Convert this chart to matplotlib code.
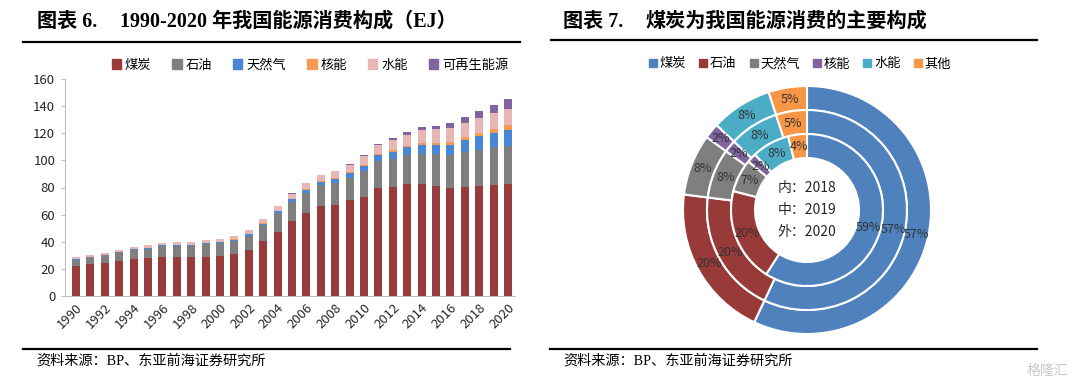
import matplotlib.pyplot as plt
import numpy as np
from matplotlib.lines import Line2D
from matplotlib.patches import Patch

plt.rcParams["font.family"] = ["Noto Sans CJK SC", "DejaVu Sans"]

TITLE_FONT = ["Liberation Serif", "Noto Sans CJK SC"]

years = list(range(1990, 2021))
coal = [22.2, 23.3, 24.4, 26.0, 27.6, 28.0, 29.1, 28.6, 28.5, 29.1, 29.6,
        31.0, 34.0, 40.6, 47.5, 55.6, 61.4, 66.1, 67.2, 70.7, 73.2,
        79.7, 80.7, 82.4, 82.8, 80.9, 80.0, 80.6, 81.2, 81.7, 82.3]
oil = [4.7, 5.1, 5.6, 6.1, 6.3, 7.0, 7.5, 8.2, 8.4, 9.0, 9.4,
       9.6, 10.4, 11.5, 13.4, 14.0, 14.9, 15.6, 15.9, 16.6, 18.9,
       19.6, 20.5, 21.3, 22.1, 23.7, 24.3, 25.5, 26.6, 27.9, 28.5]
gas = [0.55, 0.57, 0.57, 0.61, 0.63, 0.64, 0.69, 0.71, 0.73, 0.77, 0.88,
       1.0, 1.1, 1.3, 1.5, 1.7, 2.1, 2.6, 3.0, 3.3, 3.9,
       4.8, 5.3, 6.1, 6.7, 6.9, 7.4, 8.6, 10.0, 10.8, 11.9]
nuclear = [0.0, 0.0, 0.0, 0.02, 0.13, 0.12, 0.13, 0.14, 0.13, 0.14, 0.16,
           0.17, 0.24, 0.41, 0.47, 0.49, 0.51, 0.57, 0.63, 0.64, 0.67,
           0.79, 0.88, 1.0, 1.2, 1.6, 1.9, 2.2, 2.6, 3.0, 3.25]
hydro = [1.2, 1.2, 1.3, 1.5, 1.7, 1.8, 1.8, 1.9, 2.0, 2.0, 2.1,
         2.6, 2.7, 2.7, 3.3, 3.7, 4.1, 4.4, 5.4, 5.5, 6.5,
         6.3, 7.8, 8.1, 9.5, 10.0, 10.4, 10.5, 10.7, 11.3, 11.7]
renew = [0.0, 0.0, 0.0, 0.0, 0.01, 0.01, 0.01, 0.01, 0.02, 0.02, 0.03,
         0.04, 0.05, 0.06, 0.07, 0.1, 0.15, 0.2, 0.3, 0.5, 0.7,
         1.0, 1.3, 1.8, 2.1, 2.6, 3.4, 4.3, 5.4, 6.4, 7.8]
bar_names = ["煤炭", "石油", "天然气", "核能", "水能", "可再生能源"]
bar_colors = ["#993B3A", "#7F7F7F", "#4A86D6", "#F79A55", "#E8B6B5", "#8064A2"]

donut_names = ["煤炭", "石油", "天然气", "核能", "水能", "其他"]
share_2018 = [59, 20, 7, 2, 8, 4]
share_2019 = [57, 20, 8, 2, 8, 5]
share_2020 = [57, 20, 8, 2, 8, 5]
donut_colors = ["#4F81BD", "#983A38", "#7F7F7F", "#8064A2", "#4BACC6", "#F79646"]

fig = plt.figure(figsize=(10.8, 3.85), dpi=100)

# titles and rules
fig.text(37 / 1080, 1 - 22 / 385, "图表 6.", family=TITLE_FONT, weight="bold",
         fontsize=14.5, va="center", ha="left")
fig.text(120 / 1080, 1 - 22 / 385, "1990-2020 年我国能源消费构成（EJ）",
         family=TITLE_FONT, weight="bold", fontsize=14.5, va="center", ha="left")
fig.text(563 / 1080, 1 - 22 / 385, "图表 7.", family=TITLE_FONT, weight="bold",
         fontsize=14.5, va="center", ha="left")
fig.text(645 / 1080, 1 - 22 / 385, "煤炭为我国能源消费的主要构成",
         family=TITLE_FONT, weight="bold", fontsize=14.5, va="center", ha="left")
for x0, x1, y in [(23, 520, 42), (551, 1037, 40), (23, 510, 349), (550, 1037, 349)]:
    fig.add_artist(Line2D([x0 / 1080, x1 / 1080], [1 - y / 385, 1 - y / 385],
                          color="black", linewidth=1.6))
fig.text(36 / 1080, 1 - 361 / 385, "资料来源：BP、东亚前海证券研究所",
         family=TITLE_FONT, fontsize=10.2, va="center", ha="left")
fig.text(563 / 1080, 1 - 361 / 385, "资料来源：BP、东亚前海证券研究所",
         family=TITLE_FONT, fontsize=10.2, va="center", ha="left")
fig.text(1068 / 1080, 1 - 371 / 385, "格隆汇", fontsize=10, color="#C8C8C8",
         va="center", ha="right")

# stacked bars
ax = fig.add_axes([65 / 1080, 1 - 296 / 385, 450 / 1080, 217 / 385])
x = np.arange(len(years))
bottom = np.zeros(len(years))
for name, vals, col in zip(bar_names, [coal, oil, gas, nuclear, hydro, renew], bar_colors):
    ax.bar(x, vals, 0.55, bottom=bottom, color=col, label=name)
    bottom += np.array(vals)
ax.set_xlim(-0.76, len(years) - 0.51)
ax.set_ylim(0, 160)
ax.set_yticks(range(0, 161, 20))
ax.set_xticks(x[::2])
ax.set_xticklabels([str(y) for y in years[::2]], rotation=45, ha="right",
                   rotation_mode="anchor", fontsize=9.5, color="#262626")
ax.tick_params(axis="x", length=0, pad=4)
ax.tick_params(axis="y", length=3, color="#BFBFBF", labelsize=9.5, labelcolor="#262626", pad=4)
for s in ["top", "right"]:
    ax.spines[s].set_visible(False)
for s in ["left", "bottom"]:
    ax.spines[s].set_color("#BFBFBF")
handles = [Patch(color=c) for c in bar_colors]
fig.legend(handles, bar_names, loc="center", bbox_to_anchor=(310 / 1080, 1 - 65 / 385),
           ncol=6, frameon=False, fontsize=9.5, handlelength=0.7, handleheight=0.7,
           handletextpad=0.3, columnspacing=1.6)

# nested donut
dax = fig.add_axes([683 / 1080, 1 - 334 / 385, 248 / 1080, 248 / 385])
rings = [(share_2020, 1.0), (share_2019, 100 / 124), (share_2018, 76 / 124)]
width = 24 / 124
for shares, r in rings:
    wedges, _, autotexts = dax.pie(
        shares, radius=r, colors=donut_colors, startangle=90, counterclock=False,
        autopct="%.0f%%", pctdistance=(r - width / 2) / r,
        wedgeprops=dict(width=width, edgecolor="white", linewidth=1.5),
        textprops=dict(fontsize=9, color="#333333"))
dax.set_xlim(-1, 1)
dax.set_ylim(-1, 1)
dax.set_aspect("equal")
for i, t in enumerate(["内：2018", "中：2019", "外：2020"]):
    dax.text(0, (22 - 22 * i) / 124, t, ha="center", va="center", fontsize=10, color="#262626")
handles = [Patch(color=c) for c in donut_colors]
fig.legend(handles, donut_names, loc="center", bbox_to_anchor=(800 / 1080, 1 - 64 / 385),
           ncol=6, frameon=False, fontsize=9.5, handlelength=0.6, handleheight=0.6,
           handletextpad=0.2, columnspacing=1.0)

fig.savefig("out.png", dpi=100)
